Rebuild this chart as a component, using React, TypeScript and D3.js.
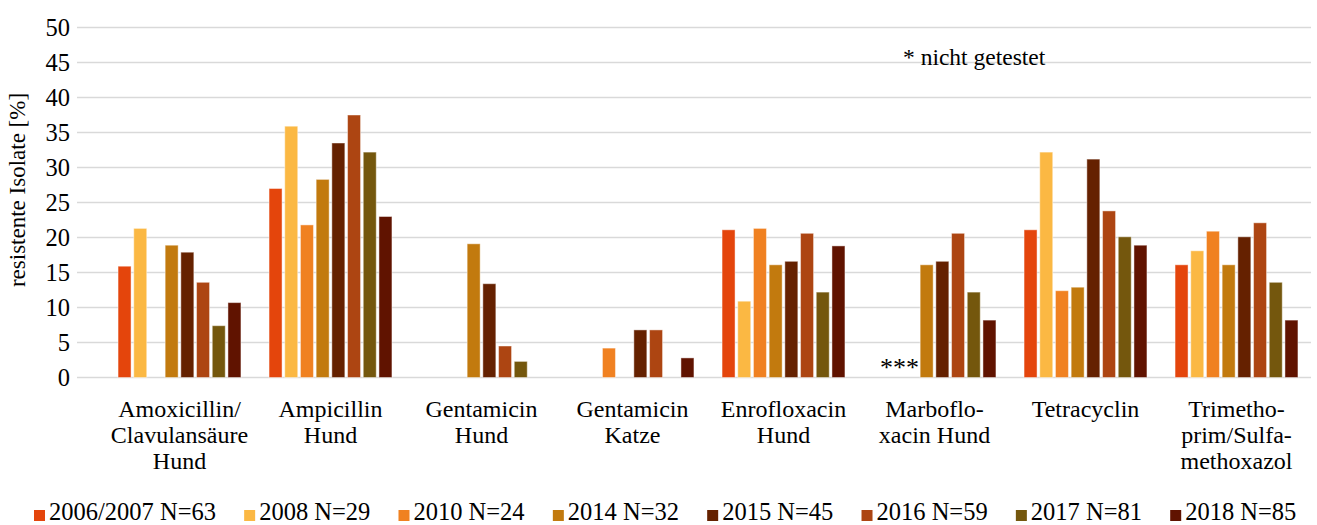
import React, { useEffect, useRef } from "react";
import * as d3 from "d3";

// categories (x axis), each label split into its lines
const categories = ["amox", "ampi", "gentaH", "gentaK", "enro", "marbo", "tetra", "tms"];
const categoryLines = [
  ["Amoxicillin/", "Clavulansäure", "Hund"],
  ["Ampicillin", "Hund"],
  ["Gentamicin", "Hund"],
  ["Gentamicin", "Katze"],
  ["Enrofloxacin", "Hund"],
  ["Marboflo-", "xacin Hund"],
  ["Tetracyclin"],
  ["Trimetho-", "prim/Sulfa-", "methoxazol"],
];

// series: resistant isolates in %, null = no bar
const seriesNames = [
  "2006/2007 N=63",
  "2008 N=29",
  "2010 N=24",
  "2014 N=32",
  "2015 N=45",
  "2016 N=59",
  "2017 N=81",
  "2018 N=85",
];
const v2006 = [15.9, 27.0, null, null, 21.1, null, 21.1, 16.1];
const v2008 = [21.3, 35.9, null, null, 10.9, null, 32.2, 18.1];
const v2010 = [null, 21.8, null, 4.2, 21.3, null, 12.4, 20.9];
const v2014 = [18.9, 28.3, 19.1, null, 16.1, 16.1, 12.9, 16.1];
const v2015 = [17.9, 33.5, 13.4, 6.8, 16.6, 16.6, 31.2, 20.1];
const v2016 = [13.6, 37.5, 4.5, 6.8, 20.6, 20.6, 23.8, 22.1];
const v2017 = [7.4, 32.2, 2.3, null, 12.2, 12.2, 20.1, 13.6];
const v2018 = [10.7, 23.0, null, 2.8, 18.8, 8.2, 18.9, 8.2];
const seriesValues = [v2006, v2008, v2010, v2014, v2015, v2016, v2017, v2018];

const yTicks = [0, 5, 10, 15, 20, 25, 30, 35, 40, 45, 50];

const colors = [
  "#E4450C",
  "#FBB843",
  "#F08121",
  "#C27A0E",
  "#652100",
  "#AD4512",
  "#74570D",
  "#601300",
];

const FONT = "'Liberation Serif', 'Times New Roman', serif";

export default function App() {
  const ref = useRef<SVGSVGElement | null>(null);

  useEffect(() => {
    const svg = d3.select(ref.current);
    svg.selectAll("*").remove();

    const y = d3.scaleLinear().domain([0, 50]).range([377.5, 27.5]);
    const x0 = d3.scaleBand().domain(categories).range([104, 1312]);
    const x1 = d3
      .scaleBand()
      .domain(seriesNames)
      .range([0, x0.bandwidth()])
      .paddingInner(0.172)
      .paddingOuter(0.895);

    // gridlines
    svg
      .append("g")
      .selectAll("line")
      .data(yTicks)
      .join("line")
      .attr("x1", 77)
      .attr("x2", 1311)
      .attr("y1", (d) => y(d))
      .attr("y2", (d) => y(d))
      .attr("stroke", "#d9d9d9")
      .attr("stroke-width", 1.5);

    // y tick labels
    svg
      .append("g")
      .selectAll("text")
      .data(yTicks)
      .join("text")
      .attr("x", 70)
      .attr("y", (d) => y(d))
      .attr("dy", "0.35em")
      .attr("text-anchor", "end")
      .style("font-family", FONT)
      .style("font-size", "24.5px")
      .attr("fill", "#000")
      .text((d) => d);

    // y axis title
    svg
      .append("text")
      .attr("transform", "translate(25,190) rotate(-90)")
      .attr("text-anchor", "middle")
      .style("font-family", FONT)
      .style("font-size", "23px")
      .text("resistente Isolate [%]");

    // bars
    const groups = svg
      .append("g")
      .selectAll("g")
      .data(seriesNames)
      .join("g")
      .attr("fill", (d, i) => colors[i]);

    groups
      .selectAll("rect")
      .data((name, si) =>
        categories
          .map((c, ci) => ({ c, name, v: seriesValues[si][ci] }))
          .filter((d) => d.v !== null)
      )
      .join("rect")
      .attr("x", (d) => (x0(d.c) as number) + (x1(d.name) as number))
      .attr("y", (d) => y(d.v as number))
      .attr("width", x1.bandwidth())
      .attr("height", (d) => y(0) - y(d.v as number))
      .attr("stroke", "#fff")
      .attr("stroke-opacity", 0.45)
      .attr("stroke-width", 1);

    // category labels
    const cat = svg
      .append("g")
      .selectAll("text")
      .data(categories)
      .join("text")
      .attr("x", (d) => (x0(d) as number) + x0.bandwidth() / 2)
      .attr("y", 417)
      .attr("text-anchor", "middle")
      .style("font-family", FONT)
      .style("font-size", "24px");
    cat
      .selectAll("tspan")
      .data((d, i) => categoryLines[i])
      .join("tspan")
      .attr("x", function () {
        return (this.parentNode as SVGTextElement).getAttribute("x");
      })
      .attr("dy", (d, i) => (i === 0 ? 0 : 26))
      .text((d) => d);

    // annotations
    svg
      .append("text")
      .attr("x", 903)
      .attr("y", 65)
      .style("font-family", FONT)
      .style("font-size", "23.5px")
      .text("* nicht getestet");
    svg
      .append("text")
      .attr("x", 880)
      .attr("y", 376)
      .style("font-family", FONT)
      .style("font-size", "26px")
      .text("***");

    // legend
    const legend = svg.append("g");
    let lx = 34;
    seriesNames.forEach((name, i) => {
      legend
        .append("rect")
        .attr("x", lx)
        .attr("y", 510)
        .attr("width", 11)
        .attr("height", 11)
        .attr("fill", colors[i]);
      const t = legend
        .append("text")
        .attr("x", lx + 15)
        .attr("y", 520)
        .style("font-family", FONT)
        .style("font-size", "24.5px")
        .text(name);
      const w = (t.node() as SVGTextElement).getComputedTextLength();
      lx = lx + 15 + w + 28.2;
    });
  }, []);

  return (
    <svg
      ref={ref}
      width={1317}
      height={525}
      style={{ position: "absolute", left: 0, top: 0, background: "#fff" }}
    />
  );
}
